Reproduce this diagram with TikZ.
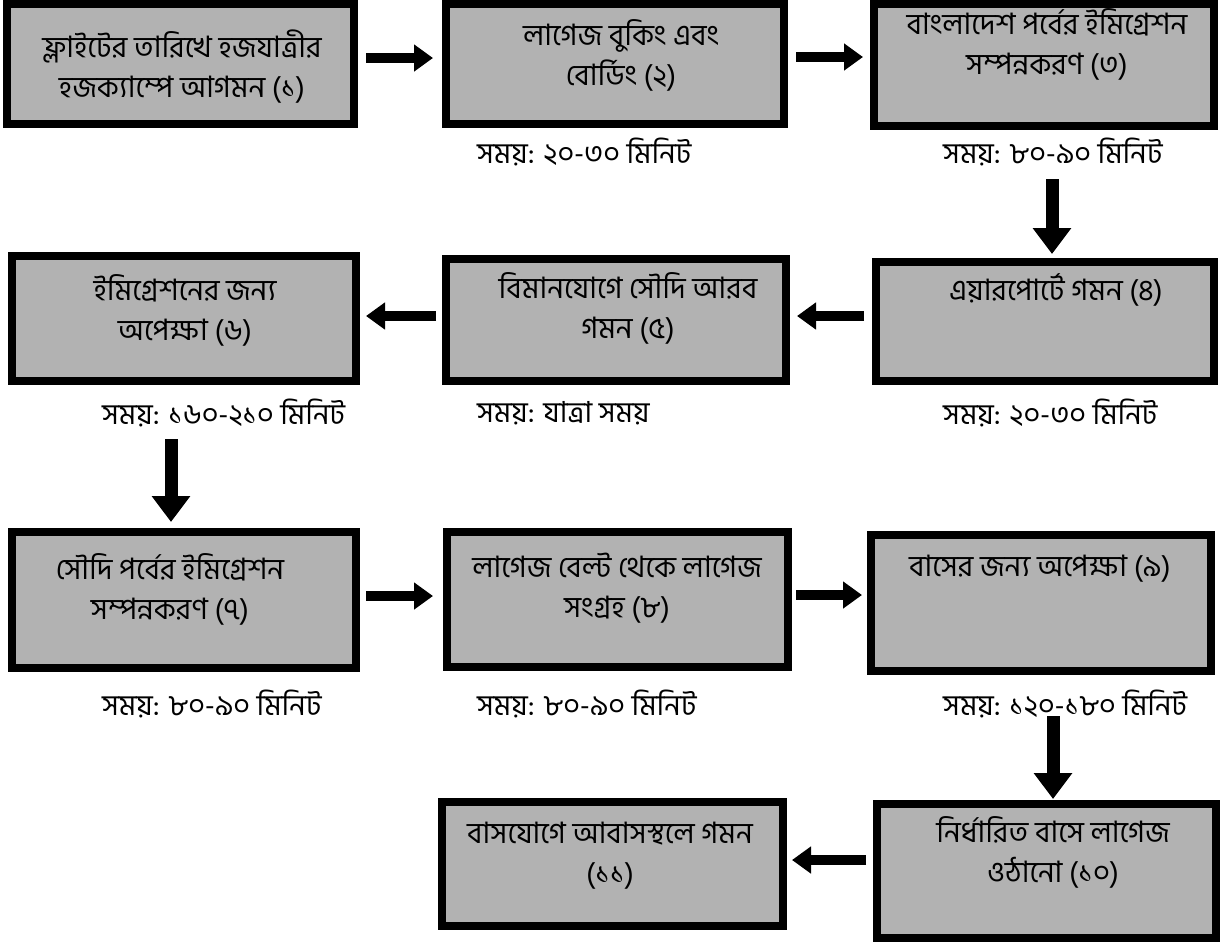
\documentclass[tikz,border=0pt]{standalone}
\usepackage{fontspec}
\newfontfamily\bn[Script=Bengali]{Hind Siliguri}
\usetikzlibrary{arrows.meta}
\definecolor{boxfill}{RGB}{178,178,178}
\tikzset{
  box/.style={draw=black, line width=8pt, fill=boxfill, inner sep=0pt},
  txt/.style={font=\bn\fontsize{29.5}{40}\selectfont, align=center, inner sep=0pt},
  lbl/.style={font=\bn\fontsize{29}{32}\selectfont, anchor=west, inner sep=0pt},
  harrow/.style={line width=10pt, -{Triangle[width=26pt,length=19pt]}},
  varrow/.style={line width=13pt, -{Triangle[width=37pt,length=26pt]}}
}
\begin{document}
\begin{tikzpicture}[x=1pt,y=-1pt]
\useasboundingbox (0,0) rectangle (1225,943);
% boxes
\node[box, minimum width=347pt, minimum height=120pt] (b1) at (180.5,64) {};
\node[box, minimum width=338pt, minimum height=120pt] (b2) at (615,64) {};
\node[box, minimum width=340pt, minimum height=122pt] (b3) at (1044,65) {};
\node[box, minimum width=338pt, minimum height=119pt] (b4) at (1045,321.5) {};
\node[box, minimum width=340pt, minimum height=122pt] (b5) at (616,320) {};
\node[box, minimum width=344pt, minimum height=125pt] (b6) at (184,318.5) {};
\node[box, minimum width=344pt, minimum height=136pt] (b7) at (184,600) {};
\node[box, minimum width=341pt, minimum height=135pt] (b8) at (617.5,599) {};
\node[box, minimum width=340pt, minimum height=136pt] (b9) at (1041,603) {};
\node[box, minimum width=339pt, minimum height=134pt] (b10) at (1046.5,871) {};
\node[box, minimum width=341pt, minimum height=124pt] (b11) at (612.5,864) {};
% box texts
\node[txt] (t1) at (182,66.5) {ফ্লাইটের তারিখে হজযাত্রীর\\হজক্যাম্পে আগমন (১)};
\node[txt] (t2) at (621,55) {লাগেজ বুকিং এবং\\বোর্ডিং (২)};
\node[txt] (t3) at (1047,44) {বাংলাদেশ পর্বের ইমিগ্রেশন\\সম্পন্নকরণ (৩)};
\node[txt] (t4) at (1056,290) {এয়ারপোর্টে গমন (৪)};
\node[txt] (t5) at (628,308.5) {বিমানযোগে সৌদি আরব\\গমন (৫)};
\node[txt] (t6) at (185,310) {ইমিগ্রেশনের জন্য\\অপেক্ষা (৬)};
\node[txt] (t7) at (170,589) {সৌদি পর্বের ইমিগ্রেশন\\সম্পন্নকরণ (৭)};
\node[txt] (t8) at (617,588) {লাগেজ বেল্ট থেকে লাগেজ\\সংগ্রহ (৮)};
\node[txt] (t9) at (1040,569) {বাসের জন্য অপেক্ষা (৯)};
\node[txt] (t10) at (1053,852) {নির্ধারিত বাসে লাগেজ\\ওঠানো (১০)};
\node[txt] (t11) at (610,856) {বাসযোগে আবাসস্থলে গমন\\(১১)};
% time labels
\node[lbl] (l2) at (477,152) {সময়: ২০-৩০ মিনিট};
\node[lbl] (l3) at (943,152) {সময়: ৮০-৯০ মিনিট};
\node[lbl] (l6) at (102,413) {সময়: ১৬০-২১০ মিনিট};
\node[lbl] (l5) at (477,413) {সময়: যাত্রা সময়};
\node[lbl] (l4) at (943,413) {সময়: ২০-৩০ মিনিট};
\node[lbl] (l7) at (102,704) {সময়: ৮০-৯০ মিনিট};
\node[lbl] (l8) at (477,704) {সময়: ৮০-৯০ মিনিট};
\node[lbl] (l9) at (943,704) {সময়: ১২০-১৮০ মিনিট};
% arrows
\draw[harrow] ([xshift=8pt,yshift=6pt]b1.east) -- ([xshift=-9pt,yshift=6pt]b2.west);
\draw[harrow] ([xshift=8pt,yshift=7pt]b2.east) -- ([xshift=-7pt,yshift=8pt]b3.west);
\draw[varrow] ([xshift=8pt,yshift=-49pt]b3.south) -- ([xshift=7pt,yshift=4pt]b4.north);
\draw[harrow] ([xshift=-8pt,yshift=5.5pt]b4.west) -- ([xshift=7pt,yshift=4pt]b5.east);
\draw[harrow] ([xshift=-6pt,yshift=4pt]b5.west) -- ([xshift=6pt,yshift=2.5pt]b6.east);
\draw[varrow] ([xshift=-13pt,yshift=-54pt]b6.south) -- ([xshift=-13pt,yshift=6pt]b7.north);
\draw[harrow] ([xshift=6pt,yshift=4pt]b7.east) -- ([xshift=-10pt,yshift=3pt]b8.west);
\draw[harrow] ([xshift=4pt,yshift=4pt]b8.east) -- ([xshift=-5pt,yshift=8pt]b9.west);
\draw[varrow] ([xshift=12pt,yshift=-41pt]b9.south) -- ([xshift=6.5pt,yshift=1pt]b10.north);
\draw[harrow] ([xshift=-7pt,yshift=11pt]b10.west) -- ([xshift=5pt,yshift=4pt]b11.east);
\end{tikzpicture}
\end{document}
